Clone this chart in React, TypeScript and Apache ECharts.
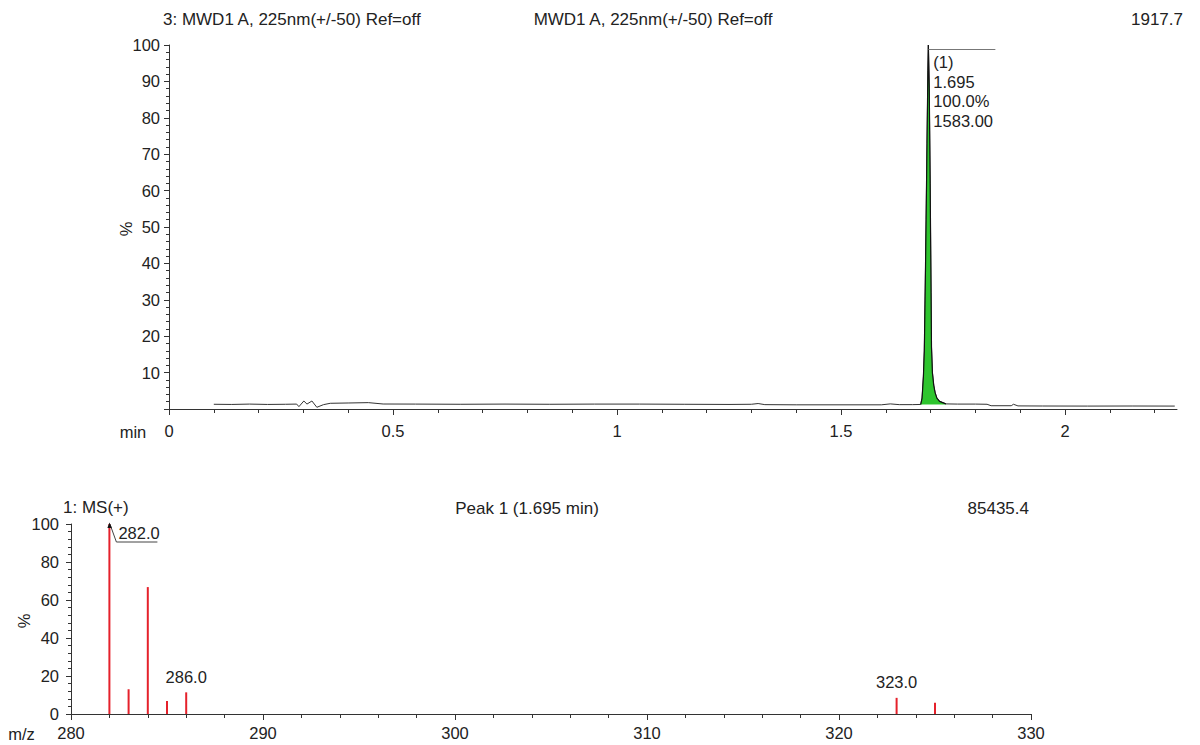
import React, { useEffect, useRef } from "react";
import * as echarts from "echarts";

// ---------- DATA ----------
// Chromatogram (UV 225 nm), time in min, intensity in %
const chromBefore: [number, number][] = [
  [0.1, 1.3], [0.14, 1.25], [0.18, 1.35], [0.22, 1.25], [0.26, 1.3], [0.285, 1.35],
  [0.29, 0.65], [0.301, 2.2], [0.308, 1.35], [0.319, 2.2], [0.33, 0.47], [0.345, 1.2],
  [0.36, 1.57], [0.4, 1.65], [0.445, 1.75], [0.478, 1.37], [0.55, 1.35], [0.65, 1.3],
  [0.75, 1.35], [0.85, 1.3], [0.95, 1.35], [1.05, 1.35], [1.15, 1.3], [1.25, 1.25],
  [1.3, 1.3], [1.315, 1.5], [1.33, 1.2], [1.4, 1.15], [1.5, 1.15], [1.59, 1.15],
  [1.61, 1.4], [1.63, 1.2], [1.66, 1.2],
];
const chromPeak: [number, number][] = [
  [1.678, 1.25], [1.681, 3], [1.684, 9], [1.686, 16], [1.688, 33], [1.69, 52],
  [1.692, 73], [1.694, 93], [1.695, 100], [1.697, 88], [1.699, 62], [1.701, 32],
  [1.702, 17], [1.704, 10], [1.707, 6.5], [1.71, 4.5], [1.714, 3], [1.72, 2.1], [1.734, 1.4],
];
const chromAfter: [number, number][] = [
  [1.76, 1.35], [1.8, 1.35], [1.826, 1.3], [1.835, 0.9], [1.88, 0.9], [1.885, 1.3],
  [1.895, 0.85], [1.95, 0.82], [2.05, 0.8], [2.15, 0.82], [2.245, 0.8],
];
const peakBaseline = 1.25;
const peakTime = 1.695;
const peakPercent = 100;
const peakInfo = ["(1)", "1.695", "100.0%", "1583.00"];

const timeMajorTicks = [0, 0.5, 1, 1.5, 2];
const timeMinorTicks = [0.1, 0.2, 0.3, 0.4, 0.6, 0.7, 0.8, 0.9, 1.1, 1.2, 1.3, 1.4, 1.6, 1.7, 1.8, 1.9, 2.1, 2.2];

// Mass spectrum of peak 1
const msMz = [282, 283, 284, 285, 286, 323, 325];
const msIntensity = [100, 13, 66.8, 6.9, 11.4, 8.5, 5.9];
const msTopLabeled = [286, 323];
const msBasePeak = 282;

// Header texts
const topHeaderLeft = "3: MWD1 A, 225nm(+/-50) Ref=off";
const topHeaderMid = "MWD1 A, 225nm(+/-50) Ref=off";
const topHeaderRight = "1917.7";
const bottomHeaderLeft = "1: MS(+)";
const bottomHeaderMid = "Peak 1 (1.695 min)";
const bottomHeaderRight = "85435.4";
const yAxisName = "%";
const topXName = "min";
const bottomXName = "m/z";

const FONT = "'Liberation Sans', Arial, sans-serif";
const TXT = "#222";
const AX = "#333";

export default function App() {
  const ref = useRef<HTMLDivElement>(null);
  useEffect(() => {
    if (!ref.current) return;
    const chart = echarts.init(ref.current, null, { renderer: "svg" });
    const chromAll = [...chromBefore, ...chromPeak, ...chromAfter];
    const fs = 16.5;
    const hfs = 17;
    const axisCommon = {
      axisLine: { show: true, lineStyle: { color: AX, width: 1 } },
      splitLine: { show: false },
      minorSplitLine: { show: false },
    };
    const option: any = {
      animation: false,
      backgroundColor: "#fff",
      textStyle: { fontFamily: FONT },
      grid: [
        { left: 169, right: 23, top: 45, height: 364, outerBoundsMode: "none" },
        { left: 71, right: 169, top: 524, height: 190, outerBoundsMode: "none" },
      ],
      xAxis: [
        {
          ...axisCommon,
          type: "value", gridIndex: 0, min: 0, max: 2.25,
          axisTick: { show: true, length: 6, customValues: timeMajorTicks, lineStyle: { color: AX } },
          axisLabel: { customValues: timeMajorTicks, fontSize: fs, color: TXT, margin: 13, fontFamily: FONT, formatter: (v: number) => String(v) },
        },
        {
          type: "value", gridIndex: 0, min: 0, max: 2.25, position: "bottom",
          axisLine: { show: false },
          axisTick: { show: true, length: 4, customValues: timeMinorTicks, lineStyle: { color: AX } },
          axisLabel: { show: false },
          splitLine: { show: false },
        },
        {
          ...axisCommon,
          type: "value", gridIndex: 1, min: 280, max: 330, interval: 10,
          axisTick: { show: true, length: 6, lineStyle: { color: AX } },
          minorTick: { show: true, splitNumber: 5, length: 4, lineStyle: { color: AX } },
          axisLabel: { fontSize: fs, color: TXT, margin: 10, fontFamily: FONT },
        },
      ],
      yAxis: [
        {
          ...axisCommon,
          type: "value", gridIndex: 0, min: 0, max: 100, interval: 10,
          axisTick: { show: true, length: 5, lineStyle: { color: AX } },
          minorTick: { show: true, splitNumber: 5, length: 3, lineStyle: { color: AX } },
          axisLabel: { fontSize: fs, color: TXT, margin: 9, fontFamily: FONT, formatter: (v: number) => (v === 0 ? "" : String(v)) },
        },
        {
          ...axisCommon,
          type: "value", gridIndex: 1, min: 0, max: 100, interval: 20,
          axisTick: { show: true, length: 5, lineStyle: { color: AX } },
          minorTick: { show: true, splitNumber: 5, length: 3, lineStyle: { color: AX } },
          axisLabel: { fontSize: fs, color: TXT, margin: 12, fontFamily: FONT },
        },
      ],
      series: [
        {
          type: "line", xAxisIndex: 0, yAxisIndex: 0, data: chromAll,
          showSymbol: false, symbol: "none", smooth: false,
          lineStyle: { color: "#333", width: 1 },
          z: 3,
        },
        {
          type: "line", xAxisIndex: 0, yAxisIndex: 0, data: chromPeak,
          showSymbol: false, symbol: "none",
          lineStyle: { color: "#111", width: 1.2 },
          areaStyle: { color: "#2ec52e", opacity: 1, origin: peakBaseline },
          z: 4,
        },
        {
          type: "custom", xAxisIndex: 0, yAxisIndex: 0, clip: false,
          data: [[peakTime, peakPercent]],
          renderItem: (params: any, api: any) => {
            const p = api.coord([api.value(0), api.value(1)]);
            return {
              type: "group",
              children: [
                { type: "line", shape: { x1: p[0], y1: p[1] + 4.5, x2: p[0] + 67, y2: p[1] + 4.5 }, style: { stroke: "#777", lineWidth: 1 } },
                {
                  type: "text", x: p[0] + 5, y: p[1] + 7,
                  style: { text: peakInfo.join("\n"), fill: TXT, font: `${fs}px ${FONT}`, lineHeight: 19.7, verticalAlign: "top", align: "left" },
                },
              ],
            };
          },
          z: 6,
        },
        {
          type: "bar", xAxisIndex: 2, yAxisIndex: 1, barWidth: 2,
          data: msMz.map((m, i) => ({ value: [m, msIntensity[i]], label: { show: msTopLabeled.includes(m) } })),
          itemStyle: { color: "#e5212b" },
          label: {
            position: "top", distance: 7, fontSize: fs, color: TXT, fontFamily: FONT,
            formatter: (p: any) => Number(p.value[0]).toFixed(1),
          },
          z: 3,
        },
        {
          type: "custom", xAxisIndex: 2, yAxisIndex: 1, clip: false,
          data: [[msBasePeak, msIntensity[msMz.indexOf(msBasePeak)]]],
          renderItem: (params: any, api: any) => {
            const p = api.coord([api.value(0), api.value(1)]);
            return {
              type: "group",
              children: [
                { type: "polyline", shape: { points: [[p[0] + 0.5, p[1]], [p[0] + 7, p[1] + 18], [p[0] + 48, p[1] + 18]] }, style: { stroke: "#444", lineWidth: 1, fill: null } },
                { type: "polygon", shape: { points: [[p[0] - 2, p[1] + 4], [p[0], p[1] - 1.5], [p[0] + 2.5, p[1] + 4]] }, style: { fill: "#111" } },
                {
                  type: "text", x: p[0] + 9, y: p[1] + 17.5,
                  style: { text: Number(api.value(0)).toFixed(1), fill: TXT, font: `${fs}px ${FONT}`, verticalAlign: "bottom", align: "left" },
                },
              ],
            };
          },
          z: 6,
        },
      ],
      graphic: [
        { type: "text", x: 163, y: 19, style: { text: topHeaderLeft, fill: TXT, font: `${hfs}px ${FONT}`, align: "left", verticalAlign: "middle" } },
        { type: "text", x: 653, y: 19, style: { text: topHeaderMid, fill: TXT, font: `${hfs}px ${FONT}`, align: "center", verticalAlign: "middle" } },
        { type: "text", x: 1183, y: 19, style: { text: topHeaderRight, fill: TXT, font: `${hfs}px ${FONT}`, align: "right", verticalAlign: "middle" } },
        { type: "text", x: 63, y: 507, style: { text: bottomHeaderLeft, fill: TXT, font: `${hfs}px ${FONT}`, align: "left", verticalAlign: "middle" } },
        { type: "text", x: 527, y: 508, style: { text: bottomHeaderMid, fill: TXT, font: `${hfs}px ${FONT}`, align: "center", verticalAlign: "middle" } },
        { type: "text", x: 1029, y: 508, style: { text: bottomHeaderRight, fill: TXT, font: `${hfs}px ${FONT}`, align: "right", verticalAlign: "middle" } },
        { type: "text", x: 133, y: 432, style: { text: topXName, fill: TXT, font: `${fs}px ${FONT}`, align: "center", verticalAlign: "middle" } },
        { type: "text", x: 21.5, y: 734, style: { text: bottomXName, fill: TXT, font: `${fs}px ${FONT}`, align: "center", verticalAlign: "middle" } },
        { type: "text", x: 126, y: 229, rotation: Math.PI / 2, style: { text: yAxisName, fill: TXT, font: `${fs}px ${FONT}`, align: "center", verticalAlign: "middle" } },
        { type: "text", x: 24, y: 621, rotation: Math.PI / 2, style: { text: yAxisName, fill: TXT, font: `${fs}px ${FONT}`, align: "center", verticalAlign: "middle" } },
      ],
    };
    chart.setOption(option);
    return () => chart.dispose();
  }, []);
  return (
    <div
      ref={ref}
      style={{ position: "fixed", left: 0, top: 0, width: 1200, height: 745, background: "#fff" }}
    />
  );
}
